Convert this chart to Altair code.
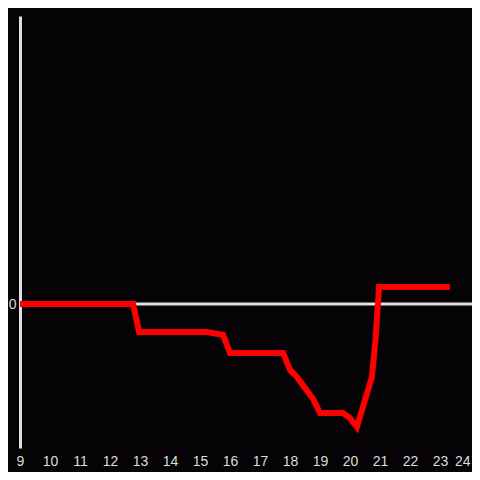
import altair as alt
import pandas as pd

hours = [9, 12.77, 12.97, 15.23, 15.77, 16.0, 17.77, 18.0, 18.23, 18.77, 19.0,
         19.77, 20.0, 20.23, 20.73, 20.85, 20.97, 23.33]
values = [0, 0, -0.194, -0.194, -0.215, -0.340, -0.340, -0.458, -0.507, -0.660,
          -0.757, -0.757, -0.792, -0.854, -0.507, -0.25, 0.118, 0.118]
tick_hours = list(range(9, 25))

df = pd.DataFrame({"hour": hours, "value": values})
zero_df = pd.DataFrame({"y": [0]})

xscale = alt.Scale(domain=[9, 24.0667], nice=False, zero=False)
yscale = alt.Scale(domain=[-1, 2], nice=False)

zero = alt.Chart(zero_df).mark_rule(color="#e0e0e0", strokeWidth=3).encode(
    y=alt.Y("y:Q", scale=yscale)
)

line = alt.Chart(df).mark_line(color="#ff0000", strokeWidth=6, strokeJoin="miter").encode(
    x=alt.X("hour:Q", scale=xscale, title=None,
            axis=alt.Axis(values=tick_hours, domain=False, ticks=False, grid=False,
                          labelColor="#dddddd", labelFontSize=14, labelPadding=6,
                          labelFont="Liberation Sans", labelFlush=False, format="d",
                          labelAlign=alt.condition("datum.value == 24",
                                                   alt.value("right"), alt.value("center")))),
    y=alt.Y("value:Q", scale=yscale, title=None,
            axis=alt.Axis(values=[0], domain=True, domainColor="#e0e0e0", domainWidth=3,
                          ticks=False, grid=False, labelColor="#dddddd", labelFontSize=14,
                          labelPadding=4, labelFont="Liberation Sans", format="d")),
)

chart = alt.layer(zero, line).properties(
    width=452, height=432,
    background="#050305",
    autosize=alt.AutoSizeParams(type="none"),
    padding={"left": 12, "top": 8, "right": 0, "bottom": 24},
).configure_view(stroke=None)

chart.save("out.html", embed_options={"renderer": "svg", "actions": False})
